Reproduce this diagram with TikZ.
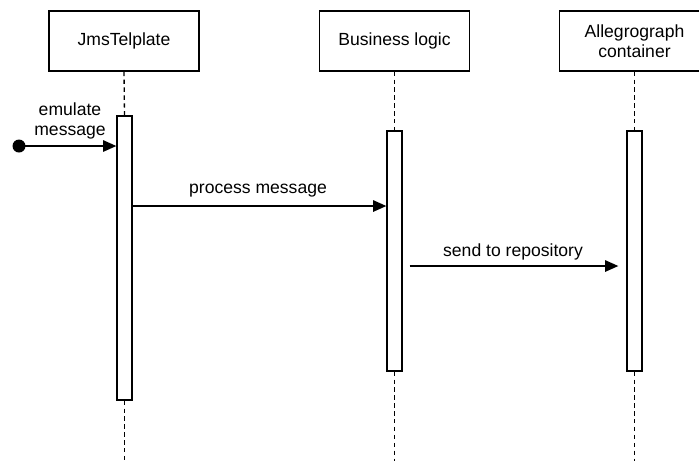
\documentclass[tikz,border=0pt]{standalone}
\usepackage{fontspec}
\setmainfont{Liberation Sans}
\usetikzlibrary{arrows.meta,positioning}

\begin{document}
\begin{tikzpicture}[x=0.02cm, y=-0.02cm,
    txt/.style={font=\fontsize{10}{11.4}\selectfont, align=center},
    actor/.style={txt, draw, line width=0.75pt, minimum width=3cm, minimum height=1.2cm, inner sep=0pt},
    actbox/.style={draw, fill=white, line width=0.75pt, minimum width=0.3cm, inner sep=0pt},
    life/.style={line width=0.75pt, dash pattern=on 2.5pt off 2pt},
    msg/.style={-{Triangle[length=7.5pt,width=6.5pt]}, line width=0.75pt}]
   \useasboundingbox (0, 0) rectangle (699, 461);
   \clip (0, 0) rectangle (699, 461);
   % \draw[help lines, step=50] (0, 0) grid (699, 461);
   \node [actor] (jms) at (124, 41) {JmsTelplate};
   \node [actor] (biz) at (394.5, 41) {Business logic};
   \node [actor] (allegro) at (634.5, 41) {Allegrograph\\container};
   \node [actbox, minimum height=5.68cm] (jmsact) at (124.5, 258) {};
   \node [actbox, minimum height=4.8cm] (bizact) at (394.5, 251) {};
   \node [actbox, minimum height=4.8cm] (allact) at (634.5, 251) {};
   \draw [life] (jms.south) -- (jmsact.north);
   \draw [life] (biz.south) -- (bizact.north);
   \draw [life] (allegro.south) -- (allact.north);
   \draw [life] (jmsact.south) -- (jmsact.south |- 0, 461);
   \draw [life] (bizact.south) -- (bizact.south |- 0, 461);
   \draw [life] (allact.south) -- (allact.south |- 0, 461);
   \coordinate (init) at (19, 146);
   \fill (init) circle (0.13cm);
   \draw [msg] (init) -- (jmsact.west |- init);
   \node [txt] (emul) at (70, 121) {emulate\\message};
   \draw [msg] (jmsact.east |- 0, 206) -- (bizact.west |- 0, 206);
   \node [txt] (proc) at (258, 191) {process message};
   \draw [msg, shorten <=0.14cm, shorten >=0.16cm] (bizact.east |- 0, 266) -- (allact.west |- 0, 266);
   \node [txt] (send) at (513, 252) {send to repository};
\end{tikzpicture}
\end{document}
